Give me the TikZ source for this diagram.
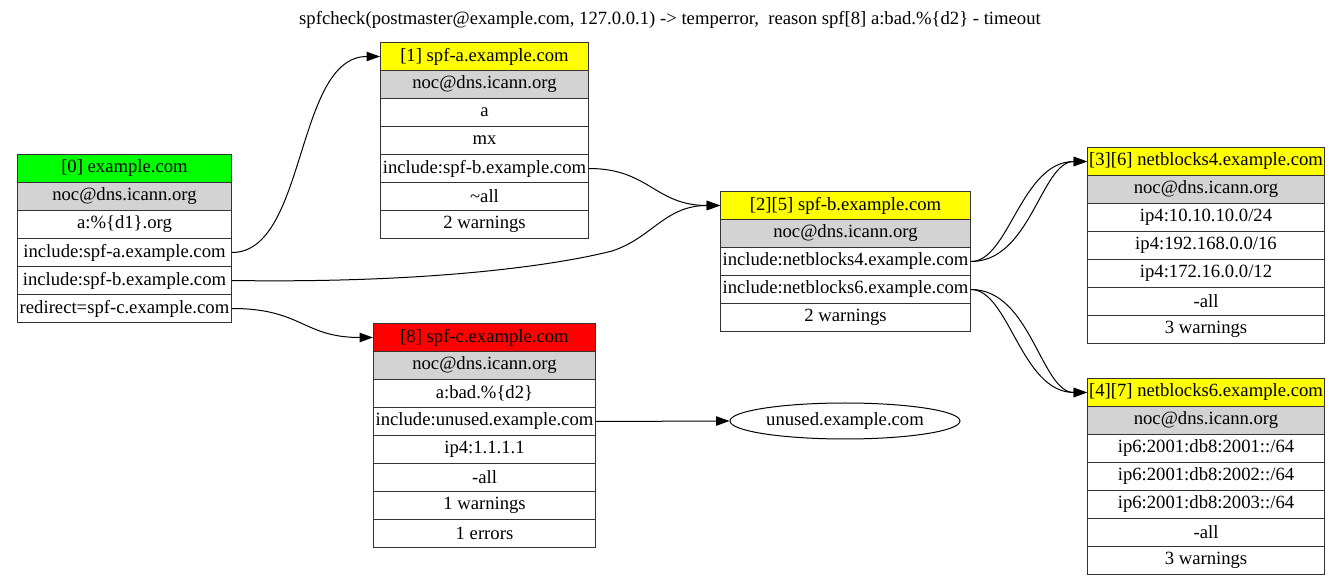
\documentclass[tikz,border=0pt]{standalone}
\usepackage{fontspec}
\setmainfont{Liberation Serif}
\usetikzlibrary{arrows.meta,shapes.geometric}
\begin{document}
\begin{tikzpicture}[x=0.75pt,y=-0.75pt,
  every node/.style={font=\fontsize{14}{16}\selectfont, inner sep=0pt},
  row/.style={draw=black!80, line width=0.75pt, minimum height=21pt, anchor=north west, fill=white},
  grn/.style={row, fill={rgb,255:red,0;green,255;blue,0}},
  ylw/.style={row, fill={rgb,255:red,255;green,255;blue,0}},
  rd/.style={row, fill={rgb,255:red,255;green,0;blue,0}},
  noc/.style={row, fill={rgb,255:red,211;green,211;blue,211}},
  wA/.style={minimum width=160.5pt},
  wB/.style={minimum width=156pt},
  wC/.style={minimum width=187.5pt},
  wD/.style={minimum width=177.75pt},
  wE/.style={minimum width=166.5pt},
  conn/.style={draw, line width=0.75pt, -{Triangle[length=10pt,width=7pt]}}
]
\useasboundingbox (0,0) rectangle (1340,584);

\node (title) at (670,20) {spfcheck(postmaster@example.com, 127.0.0.1) -> temperror,\ \ reason spf[8] a:bad.\%\{d2\} - timeout};

% box 0
\node[grn,wA] (n0-0) at (17,154) {[0] example.com};
\node[noc,wA] (n0-1) at (17,182) {noc@dns.icann.org};
\node[row,wA] (n0-2) at (17,210) {a:\%\{d1\}.org};
\node[row,wA] (n0-3) at (17,238) {include:spf-a.example.com};
\node[row,wA] (n0-4) at (17,266) {include:spf-b.example.com};
\node[row,wA] (n0-5) at (17,294) {redirect=spf-c.example.com};

% box 1
\node[ylw,wB] (n1-0) at (380,42) {[1] spf-a.example.com};
\node[noc,wB] (n1-1) at (380,70) {noc@dns.icann.org};
\node[row,wB] (n1-2) at (380,98) {a};
\node[row,wB] (n1-3) at (380,126) {mx};
\node[row,wB] (n1-4) at (380,154) {include:spf-b.example.com};
\node[row,wB] (n1-5) at (380,182) {\textasciitilde all};
\node[row,wB] (n1-6) at (380,210) {2 warnings};

% box 2
\node[ylw,wC] (n2-0) at (720,191) {[2][5] spf-b.example.com};
\node[noc,wC] (n2-1) at (720,219) {noc@dns.icann.org};
\node[row,wC] (n2-2) at (720,247) {include:netblocks4.example.com};
\node[row,wC] (n2-3) at (720,275) {include:netblocks6.example.com};
\node[row,wC] (n2-4) at (720,303) {2 warnings};

% box 3
\node[ylw,wD] (n3-0) at (1087,147) {[3][6] netblocks4.example.com};
\node[noc,wD] (n3-1) at (1087,175) {noc@dns.icann.org};
\node[row,wD] (n3-2) at (1087,203) {ip4:10.10.10.0/24};
\node[row,wD] (n3-3) at (1087,231) {ip4:192.168.0.0/16};
\node[row,wD] (n3-4) at (1087,259) {ip4:172.16.0.0/12};
\node[row,wD] (n3-5) at (1087,287) {-all};
\node[row,wD] (n3-6) at (1087,315) {3 warnings};

% box 4
\node[ylw,wD] (n4-0) at (1087,378) {[4][7] netblocks6.example.com};
\node[noc,wD] (n4-1) at (1087,406) {noc@dns.icann.org};
\node[row,wD] (n4-2) at (1087,434) {ip6:2001:db8:2001::/64};
\node[row,wD] (n4-3) at (1087,462) {ip6:2001:db8:2002::/64};
\node[row,wD] (n4-4) at (1087,490) {ip6:2001:db8:2003::/64};
\node[row,wD] (n4-5) at (1087,518) {-all};
\node[row,wD] (n4-6) at (1087,546) {3 warnings};

% box 8
\node[rd,wE] (n8-0) at (373,323) {[8] spf-c.example.com};
\node[noc,wE] (n8-1) at (373,351) {noc@dns.icann.org};
\node[row,wE] (n8-2) at (373,379) {a:bad.\%\{d2\}};
\node[row,wE] (n8-3) at (373,407) {include:unused.example.com};
\node[row,wE] (n8-4) at (373,435) {ip4:1.1.1.1};
\node[row,wE] (n8-5) at (373,463) {-all};
\node[row,wE] (n8-6) at (373,491) {1 warnings};
\node[row,wE] (n8-7) at (373,519) {1 errors};

% unused
\node[draw, line width=0.75pt, ellipse, minimum width=172.5pt, minimum height=27pt] (u) at (845,421) {unused.example.com};

% connectors
\draw[conn] (n0-3.east) .. controls +(75,0) and +(-85,0) .. (n1-0.west);
\coordinate (m02) at (612,251);
\draw[conn] (n0-4.east) .. controls +(200,3) and +(-55,14) .. (m02)
  .. controls +(40,-13) and +(-55,0) .. (n2-0.west);
\draw[conn] (n1-4.east) .. controls +(60,0) and +(-65,0) .. (n2-0.west);
\draw[conn] (n0-5.east) .. controls +(70,0) and +(-70,0) .. (n8-0.west);
\draw[conn] (n8-3.east) -- (u.west);
\draw[conn] (n2-2.east) .. controls +(38,0) and +(-66,0) .. (n3-0.west);
\draw[conn] (n2-2.east) .. controls +(60,0) and +(-46,0) .. (n3-0.west);
\draw[conn] (n2-3.east) .. controls +(38,0) and +(-66,0) .. (n4-0.west);
\draw[conn] (n2-3.east) .. controls +(60,0) and +(-46,0) .. (n4-0.west);
\end{tikzpicture}
\end{document}
